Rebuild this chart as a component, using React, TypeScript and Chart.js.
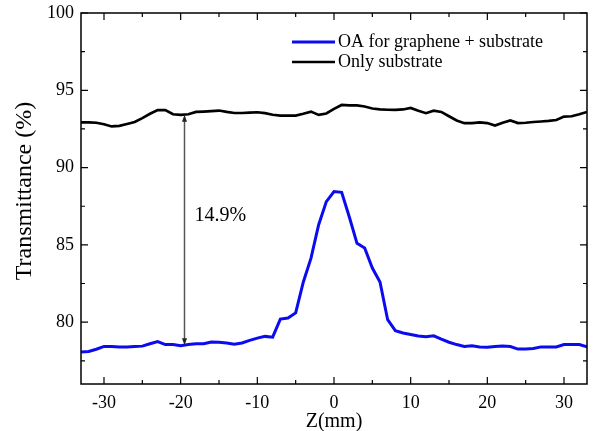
import React, { useEffect, useRef } from "react";
import { Chart, registerables } from "chart.js";

Chart.register(...registerables);

// ---- data ----
const zPositions = [
  -33, -32, -31, -30, -29, -28, -27, -26, -25, -24, -23, -22, -21, -20, -19, -18, -17,
  -16, -15, -14, -13, -12, -11, -10, -9, -8, -7, -6, -5, -4, -3, -2, -1, 0, 1, 2, 3, 4,
  5, 6, 7, 8, 9, 10, 11, 12, 13, 14, 15, 16, 17, 18, 19, 20, 21, 22, 23, 24, 25, 26, 27,
  28, 29, 30, 31, 32, 33,
];

const oaGrapheneSubstrate = [
  78.07, 78.1, 78.25, 78.43, 78.43, 78.4, 78.4, 78.42, 78.45, 78.6, 78.75, 78.55, 78.55,
  78.47, 78.55, 78.6, 78.6, 78.72, 78.7, 78.65, 78.58, 78.65, 78.82, 78.97, 79.08, 79.03,
  80.2, 80.27, 80.6, 82.6, 84.14, 86.3, 87.8, 88.45, 88.4, 86.8, 85.1, 84.8, 83.5, 82.6,
  80.16, 79.45, 79.3, 79.2, 79.1, 79.05, 79.12, 78.9, 78.7, 78.55, 78.43, 78.47, 78.4,
  78.37, 78.42, 78.45, 78.42, 78.26, 78.26, 78.3, 78.4, 78.4, 78.4, 78.55, 78.55, 78.55,
  78.4,
];

const onlySubstrate = [
  92.93, 92.93, 92.9, 92.8, 92.66, 92.7, 92.82, 92.95, 93.2, 93.48, 93.72, 93.72, 93.45,
  93.41, 93.45, 93.6, 93.62, 93.65, 93.69, 93.6, 93.53, 93.53, 93.56, 93.58, 93.52, 93.42,
  93.36, 93.36, 93.36, 93.48, 93.62, 93.41, 93.5, 93.8, 94.05, 94.03, 94.02, 93.95, 93.82,
  93.76, 93.74, 93.73, 93.76, 93.86, 93.68, 93.52, 93.68, 93.6, 93.32, 93.05, 92.87, 92.88,
  92.92, 92.88, 92.72, 92.9, 93.05, 92.88, 92.9, 92.95, 92.98, 93.02, 93.08, 93.3, 93.32,
  93.45, 93.6,
];

const seriesLabels = ["OA for graphene + substrate", "Only substrate"];
const seriesColors = ["#0b0bf0", "#000000"];

const xMajorTicks = [-30, -20, -10, 0, 10, 20, 30];
const xMinorTicks = [-25, -15, -5, 5, 15, 25];
const yMajorTicks = [80, 85, 90, 95, 100];
const yMinorTicks = [77.5, 82.5, 87.5, 92.5, 97.5];

const xAxisTitle = "Z(mm)";
const yAxisTitle = "Transmittance (%)";

const arrowZ = -19.5;
const arrowTop = 93.41;
const arrowBottom = 78.5;
const arrowLabel = "14.9%";
const arrowLabelZ = -18.2;
const arrowLabelY = 86.9;

const SERIF = '"Liberation Serif", "Times New Roman", serif';

const framePlugin = {
  id: "frameTicksLegendArrow",
  afterDraw(chart: any) {
    const ctx = chart.ctx;
    const { left, right, top, bottom } = chart.chartArea;
    const xs = chart.scales.x;
    const ys = chart.scales.y;
    ctx.save();

    // frame
    ctx.strokeStyle = "#000";
    ctx.lineWidth = 1.5;
    ctx.strokeRect(left, top, right - left, bottom - top);

    // inward ticks on all four sides
    ctx.lineWidth = 1.2;
    const drawX = (vals: number[], len: number) => {
      vals.forEach((v) => {
        const p = xs.getPixelForValue(v);
        ctx.beginPath();
        ctx.moveTo(p, bottom);
        ctx.lineTo(p, bottom - len);
        ctx.moveTo(p, top);
        ctx.lineTo(p, top + len);
        ctx.stroke();
      });
    };
    const drawY = (vals: number[], len: number) => {
      vals.forEach((v) => {
        const p = ys.getPixelForValue(v);
        ctx.beginPath();
        ctx.moveTo(left, p);
        ctx.lineTo(left + len, p);
        ctx.moveTo(right, p);
        ctx.lineTo(right - len, p);
        ctx.stroke();
      });
    };
    drawX(xMajorTicks, 7);
    drawX(xMinorTicks, 4);
    drawY(yMajorTicks, 7);
    drawY(yMinorTicks, 4);

    // y axis title (rotated)
    ctx.save();
    ctx.translate(24.5, top + 178);
    ctx.rotate(-Math.PI / 2);
    ctx.fillStyle = "#000";
    ctx.font = `24px ${SERIF}`;
    ctx.textAlign = "center";
    ctx.textBaseline = "middle";
    ctx.fillText(yAxisTitle, 0, 0);
    ctx.restore();

    // double-headed arrow
    const ax = xs.getPixelForValue(arrowZ);
    const ay1 = ys.getPixelForValue(arrowTop);
    const ay2 = ys.getPixelForValue(arrowBottom);
    ctx.strokeStyle = "#555";
    ctx.fillStyle = "#222";
    ctx.lineWidth = 1.5;
    ctx.beginPath();
    ctx.moveTo(ax, ay1 + 4);
    ctx.lineTo(ax, ay2 - 4);
    ctx.stroke();
    ctx.beginPath();
    ctx.moveTo(ax, ay1);
    ctx.lineTo(ax - 2.5, ay1 + 7);
    ctx.lineTo(ax + 2.5, ay1 + 7);
    ctx.closePath();
    ctx.fill();
    ctx.beginPath();
    ctx.moveTo(ax, ay2);
    ctx.lineTo(ax - 2.5, ay2 - 7);
    ctx.lineTo(ax + 2.5, ay2 - 7);
    ctx.closePath();
    ctx.fill();

    ctx.fillStyle = "#000";
    ctx.font = `20px ${SERIF}`;
    ctx.textAlign = "left";
    ctx.textBaseline = "middle";
    ctx.fillText(arrowLabel, xs.getPixelForValue(arrowLabelZ), ys.getPixelForValue(arrowLabelY));

    // legend (inside, upper right)
    const lx0 = left + 211;
    const lx1 = left + 254;
    const rows = [top + 29, top + 49];
    ctx.font = `18px ${SERIF}`;
    chart.data.datasets.forEach((ds: any, i: number) => {
      const y = rows[i];
      ctx.strokeStyle = ds.borderColor;
      ctx.lineWidth = ds.borderWidth;
      ctx.beginPath();
      ctx.moveTo(lx0, y);
      ctx.lineTo(lx1, y);
      ctx.stroke();
      ctx.fillStyle = "#000";
      ctx.fillText(ds.label, lx1 + 3, y);
    });

    ctx.restore();
  },
};

export default function App() {
  const canvasRef = useRef<HTMLCanvasElement | null>(null);

  useEffect(() => {
    if (!canvasRef.current) return;
    const chart = new Chart(canvasRef.current, {
      type: "line",
      data: {
        datasets: [
          {
            label: seriesLabels[0],
            data: zPositions.map((z, i) => ({ x: z, y: oaGrapheneSubstrate[i] })),
            borderColor: seriesColors[0],
            borderWidth: 3,
            pointRadius: 0,
            tension: 0,
            fill: false,
          },
          {
            label: seriesLabels[1],
            data: zPositions.map((z, i) => ({ x: z, y: onlySubstrate[i] })),
            borderColor: seriesColors[1],
            borderWidth: 2.7,
            pointRadius: 0,
            tension: 0,
            fill: false,
          },
        ],
      },
      options: {
        animation: false,
        responsive: false,
        devicePixelRatio: 1,
        layout: { padding: { top: 13, right: 6, left: 0, bottom: 0 } },
        plugins: {
          legend: { display: false },
          tooltip: { enabled: false },
        },
        scales: {
          x: {
            type: "linear",
            min: -33,
            max: 33,
            afterBuildTicks: (s: any) => {
              s.ticks = xMajorTicks.map((v) => ({ value: v }));
            },
            afterFit: (s: any) => {
              s.height = 47;
            },
            grid: { display: false, drawTicks: false, tickLength: 0 },
            border: { display: false },
            ticks: {
              color: "#000",
              padding: 8,
              maxRotation: 0,
              autoSkip: false,
              font: { family: SERIF, size: 18 },
            },
            title: {
              display: true,
              text: xAxisTitle,
              color: "#000",
              font: { family: SERIF, size: 20, lineHeight: 0.9 },
              padding: { top: 0, bottom: 0 },
            },
          },
          y: {
            type: "linear",
            min: 76,
            max: 100,
            afterBuildTicks: (s: any) => {
              s.ticks = yMajorTicks.map((v) => ({ value: v }));
            },
            afterFit: (s: any) => {
              s.width = 81;
            },
            grid: { display: false, drawTicks: false, tickLength: 0 },
            border: { display: false },
            ticks: {
              color: "#000",
              padding: 7,
              autoSkip: false,
              font: { family: SERIF, size: 18, lineHeight: 0.5 },
            },
            title: { display: false },
          },
        },
      },
      plugins: [framePlugin],
    });
    return () => chart.destroy();
  }, []);

  return (
    <div style={{ position: "absolute", left: 0, top: 0, width: 593, height: 431, background: "#fff" }}>
      <canvas ref={canvasRef} width={593} height={431} style={{ display: "block" }} />
    </div>
  );
}
